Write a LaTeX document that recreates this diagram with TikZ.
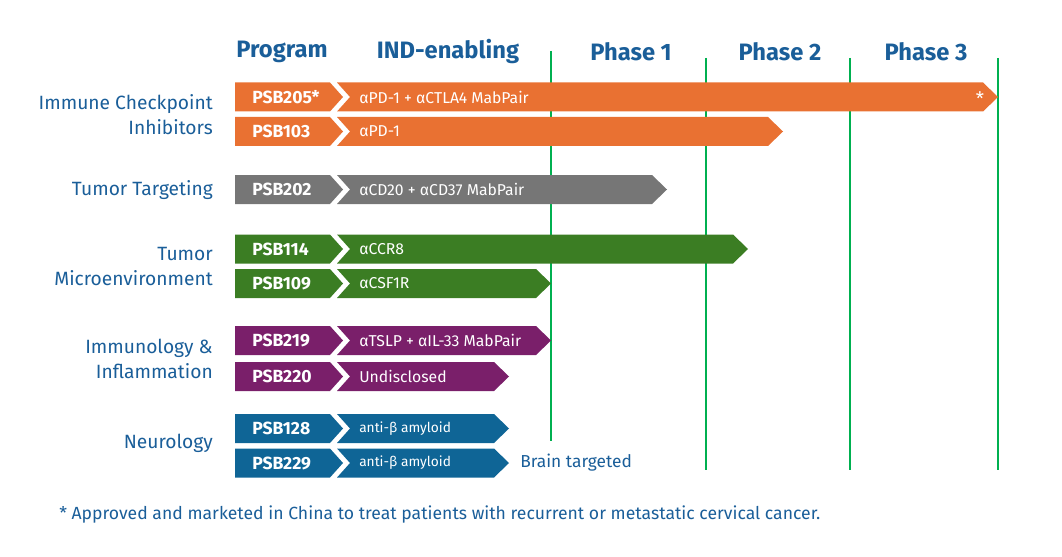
\documentclass[tikz,border=0pt]{standalone}
\usepackage{fontspec}
\setmainfont{Fira Sans}
\usepackage{xcolor}
\definecolor{PipeOrange}{HTML}{E97132}
\definecolor{PipeGray}{HTML}{767676}
\definecolor{PipeGreen}{HTML}{3B7D23}
\definecolor{PipePurple}{HTML}{7A1F6A}
\definecolor{PipeBlue}{HTML}{0F6596}
\definecolor{PipeText}{HTML}{1A5E99}
\definecolor{PhaseLine}{HTML}{00B050}
\usetikzlibrary{positioning}

\tikzset{
  header/.style={font=\bfseries\fontsize{17.8}{20}\selectfont, text=PipeText},
  area/.style={font=\fontsize{14.4}{18.75}\selectfont, text=PipeText, align=right, anchor=east, inner sep=0pt},
  code/.style={font=\bfseries\fontsize{13.2}{14}\selectfont, text=white, anchor=west, inner sep=0pt},
  target/.style={text=white, anchor=west, inner sep=0pt},
  phase line/.style={color=PhaseLine, line width=1.5pt},
}

\begin{document}
\begin{tikzpicture}[x=0.75pt, y=-0.75pt]
\useasboundingbox (0,0) rectangle (1062,556);
%%%%% Header %%%%%
\node[header] (hprog) at (282,52) {Program};
\node[header] (hind) at (448,52) {IND-enabling};
\node[header] (hp1) at (631,52) {Phase 1};
\node[header] (hp2) at (780,52) {Phase 2};
\node[header] (hp3) at (926,52) {Phase 3};
%%%%% Phase lines %%%%%
\draw[phase line] (551,51)--(551,441);
\foreach \x in {706,850,998}{
\draw[phase line] (\x,58)--(\x,470);
}
%%%%% Areas %%%%%
\node[area] (aici) at (213,115) {Immune Checkpoint\\Inhibitors};
\node[area] (att) at (213,190) {Tumor Targeting};
\node[area] (atme) at (213,266.5) {Tumor\\Microenvironment};
\node[area] (aii) at (213,358.5) {Immunology \&\\Inflammation};
\node[area] (aneu) at (213,443) {Neurology};
%%%%% Bars %%%%%
\foreach \name/\y/\col/\tip/\code/\target/\fs in {
  r1/97/PipeOrange/998/{PSB205*}/{αPD-1 + αCTLA4 MabPair}/11.8,
  r2/131.5/PipeOrange/783/{PSB103}/{αPD-1}/11.8,
  r3/189.5/PipeGray/667/{PSB202}/{αCD20 + αCD37 MabPair}/11.8,
  r4/249/PipeGreen/748/{PSB114}/{αCCR8}/11.8,
  r5/283.5/PipeGreen/551/{PSB109}/{αCSF1R}/11.8,
  r6/340.5/PipePurple/551/{PSB219}/{αTSLP + αIL-33 MabPair}/11.8,
  r7/376.5/PipePurple/509/{PSB220}/{Undisclosed}/11.8,
  r8/428.5/PipeBlue/509/{PSB128}/{anti-β amyloid}/10.3,
  r9/463/PipeBlue/509/{PSB229}/{anti-β amyloid}/10.3}{
\fill[\col] (235,\y-14.5)--(330,\y-14.5)--(343,\y)--(330,\y+14.5)--(235,\y+14.5)--cycle;
\fill[\col] (337,\y-14.5)--(\tip-15,\y-14.5)--(\tip,\y)--(\tip-15,\y+14.5)--(337,\y+14.5)--(350,\y)--cycle;
\node[code] (code-\name) at (252,\y) {\code};
\node[target, font=\fontsize{\fs}{12}\selectfont] (target-\name) at (359,\y) {\target};
}
\node[text=white, font=\fontsize{14}{14}\selectfont, inner sep=0pt] (star) at (980,99) {*};
\node[text=PipeText, font=\fontsize{13}{14}\selectfont, anchor=west, inner sep=0pt] (brain) at (520,463) {Brain targeted};
%%%%% Footnote %%%%%
\node[text=PipeText, font=\fontsize{13.2}{14}\selectfont, anchor=west, inner sep=0pt] (note) at (59,515) {* Approved and marketed in China to treat patients with recurrent or metastatic cervical cancer.};
\end{tikzpicture}
\end{document}
